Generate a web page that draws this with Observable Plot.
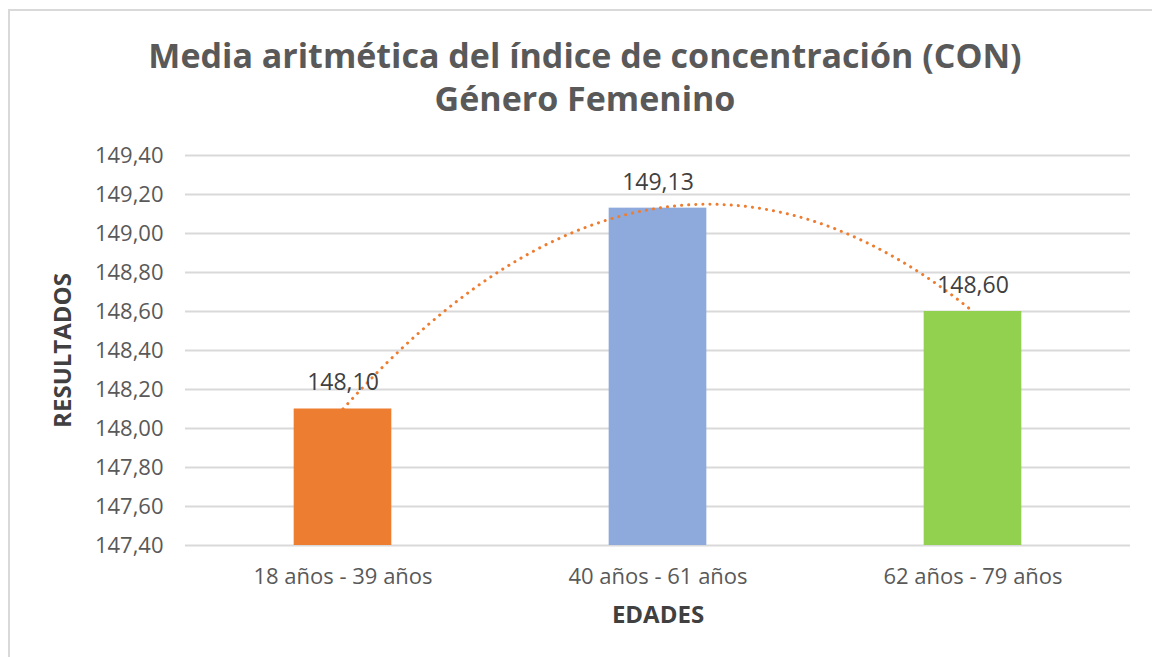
<!DOCTYPE html>
<html>
<head>
<meta charset="utf-8">
<script src="https://cdn.jsdelivr.net/npm/d3@7"></script>
<script src="https://cdn.jsdelivr.net/npm/@observablehq/plot@0.6"></script>
<style>
  html, body { margin: 0; padding: 0; background: #fff; }
  #frame { position: absolute; left: 8px; top: 9px; width: 1144px; height: 648px;
           border-top: 2px solid #d9d9d9; border-left: 2px solid #d9d9d9; box-sizing: border-box; }
  #title { position: absolute; left: 0; top: 34px; width: 1170px; text-align: center;
           font-family: "Open Sans", sans-serif; font-weight: 700; font-size: 34px; line-height: 43px; color: #595959; }
  #chart { position: absolute; left: 0; top: 130px; }
</style>
</head>
<body>
<div id="frame"></div>
<div id="title">Media aritmética del índice de concentración (CON)<br>Género Femenino</div>
<div id="chart"></div>
<script>
const categories = ["18 años - 39 años", "40 años - 61 años", "62 años - 79 años"];
const values = [148.10, 149.13, 148.60];
const colors = ["#ED7D31", "#8EA9DB", "#92D050"];
const yTicks = [147.4, 147.6, 147.8, 148.0, 148.2, 148.4, 148.6, 148.8, 149.0, 149.2, 149.4];

const fmt = d => d.toFixed(2).replace(".", ",");
const data = categories.map((c, i) => ({i, c, v: values[i], color: colors[i]}));

// Polynomial (order 2) trendline fitted through the three means
const a = (values[0] - 2 * values[1] + values[2]) / 2;
const b = values[1] - values[0] - a;
const c0 = values[0];
const trend = d3.range(0, 2.0001, 0.02).map(x => ({x, y: c0 + b * x + a * x * x}));

const half = 0.155;
const plot = Plot.plot({
  width: 1152,
  height: 527,
  marginTop: 25,
  marginBottom: 112,
  marginLeft: 185,
  marginRight: 22,
  style: {fontFamily: "Open Sans, sans-serif", fontSize: "22px", color: "#595959", background: "transparent"},
  x: {domain: [-0.5, 2.5]},
  y: {domain: [147.4, 149.4]},
  marks: [
    Plot.gridY(yTicks, {stroke: "#d9d9d9", strokeOpacity: 1, strokeWidth: 2}),
    Plot.rectY(data, {x1: d => d.i - half, x2: d => d.i + half, y1: 147.4, y2: "v", fill: "color"}),
    Plot.line(trend, {x: "x", y: "y", stroke: "#ED7D31", strokeWidth: 3, strokeDasharray: "0.1 7", strokeLinecap: "round", curve: "linear"}),
    Plot.text(data, {x: "i", y: "v", text: d => fmt(d.v), dy: -26, fill: "#404040", fontSize: 23}),
    Plot.axisY(yTicks, {tickFormat: fmt, tickSize: 0, tickPadding: 22, fontSize: 22, label: "RESULTADOS", labelAnchor: "center", labelArrow: "none", labelOffset: 132, fill: "#595959"}),
    Plot.axisX([0, 1, 2], {tickFormat: i => categories[i], tickSize: 0, tickPadding: 23, fontSize: 22, label: "EDADES", labelAnchor: "center", labelArrow: "none", labelOffset: 77, fill: "#595959"})
  ]
});
document.getElementById("chart").appendChild(plot);
d3.select(plot).selectAll('[aria-label="y-axis label"] text, [aria-label="x-axis label"] text')
  .style("font-weight", "700").style("font-size", "24px").attr("fill", "#404040");
</script>
</body>
</html>
